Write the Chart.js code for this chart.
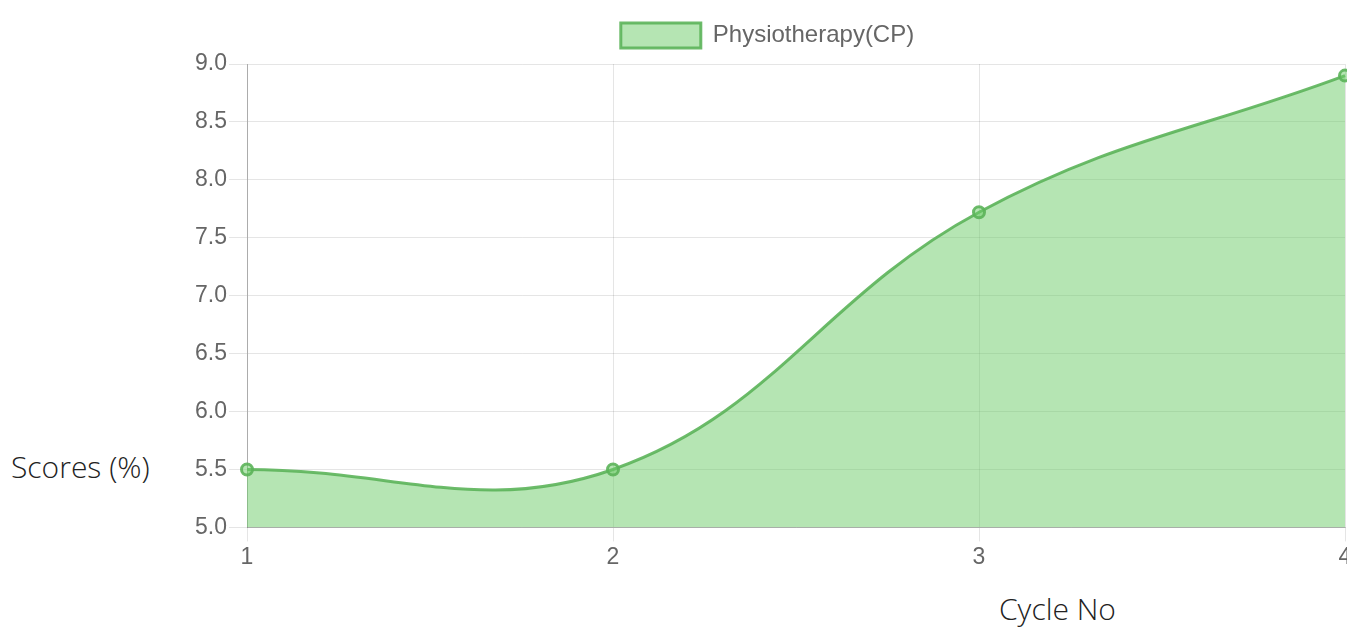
<!DOCTYPE html>
<html>
<head>
<meta charset="utf-8">
<script src="https://cdn.jsdelivr.net/npm/chart.js@4"></script>
<style>
html,body{margin:0;padding:0;width:1347px;height:628px;overflow:hidden;background:#fff;}
#wrap{position:absolute;left:150px;top:0;width:1240px;height:573px;}
.lbl{position:absolute;font-family:"Open Sans","Lato",sans-serif;font-weight:300;color:#222;font-size:30px;white-space:nowrap;}
#ylab{left:11px;top:446px;}
#xlab{left:999px;top:588px;}
</style>
</head>
<body>
<div id="wrap"><canvas id="c"></canvas></div>
<div class="lbl" id="ylab">Scores (%)</div>
<div class="lbl" id="xlab">Cycle No</div>
<script>
const categories = ["1", "2", "3", "4"];
const seriesName = "Physiotherapy(CP)";
const scores = [5.5, 5.5, 7.72, 8.9];
const yMin = 5.0, yMax = 9.0, yStep = 0.5;

const legendMargin = {
  id: 'legendMargin',
  beforeInit(chart) {
    const fit = chart.legend.fit;
    chart.legend.fit = function () { fit.bind(chart.legend)(); this.height += 6; };
  },
  afterLayout(chart) {
    chart.legend.left += 20;
    chart.legend.right += 20;
  }
};

new Chart(document.getElementById('c'), {
  type: 'line',
  data: {
    labels: categories,
    datasets: [{
      label: seriesName,
      data: scores,
      fill: true,
      backgroundColor: 'rgba(108,204,104,0.5)',
      borderColor: 'rgba(92,180,90,0.9)',
      borderWidth: 3,
      tension: 0.4,
      pointRadius: 5.5,
      pointBorderWidth: 3,
      pointBackgroundColor: 'rgba(108,204,104,0.5)',
      pointBorderColor: 'rgba(92,180,90,0.9)'
    }]
  },
  plugins: [legendMargin],
  options: {
    responsive: true,
    maintainAspectRatio: false,
    animation: false,
    layout: {padding: {top: 11, right: 45, left: 0, bottom: 0}},
    plugins: {
      legend: {
        labels: {
          boxWidth: 80, boxHeight: 25,
          color: '#666',
          font: {family: 'Liberation Sans, Arial', size: 24},
          padding: 12
        }
      },
      tooltip: {enabled: false}
    },
    scales: {
      x: {
        grid: {color: 'rgba(0,0,0,0.1)', tickLength: 14, drawTicks: true},
        border: {color: 'rgba(0,0,0,0.25)'},
        ticks: {color: '#666', font: {family: 'Liberation Sans, Arial', size: 23}, padding: 2, maxRotation: 0}
      },
      y: {
        min: yMin, max: yMax,
        afterFit: (s) => { s.width = 97; },
        grid: {color: 'rgba(0,0,0,0.1)', tickLength: 18},
        border: {color: 'rgba(0,0,0,0.25)'},
        ticks: {stepSize: yStep, color: '#666', font: {family: 'Liberation Sans, Arial', size: 23}, padding: 2,
          callback: (v) => Number(v).toFixed(1)}
      }
    }
  }
});
</script>
</body>
</html>
